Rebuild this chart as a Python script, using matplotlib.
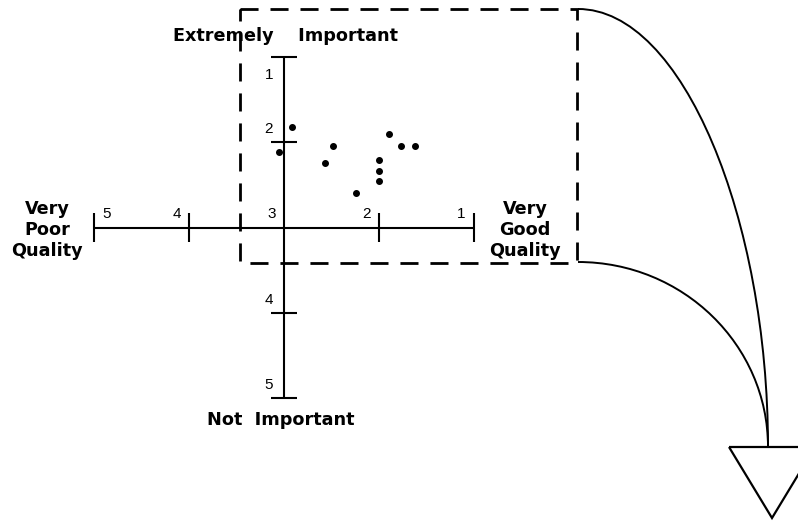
import matplotlib
matplotlib.use('Agg')
import matplotlib.pyplot as plt
from matplotlib.path import Path
from matplotlib.patches import PathPatch, Rectangle, Polygon

plt.rcParams['font.family'] = ['Liberation Sans', 'DejaVu Sans']

# survey results, 1 = best / most important, 5 = worst / not important
quality = [2.92, 3.05, 2.48, 2.57, 1.90, 1.77, 1.62, 2.00, 2.00, 2.00, 2.24]
importance = [1.82, 2.12, 2.04, 2.24, 1.90, 2.04, 2.04, 2.21, 2.34, 2.46, 2.59]

scale = [1, 2, 3, 4, 5]
mid = 3
top_label = 'Extremely    Important'
bottom_label = 'Not  Important'
left_label = 'Very\nPoor\nQuality'
right_label = 'Very\nGood\nQuality'

W, H = 798, 522
fig = plt.figure(figsize=(W / 100, H / 100), dpi=100)

# pixel canvas for the frame, funnel and captions
deco = fig.add_axes([0, 0, 1, 1])
deco.set_xlim(0, W)
deco.set_ylim(H, 0)
deco.axis('off')

# data axes: quality runs right-to-left, importance top-to-bottom
ax = fig.add_axes([0, 0, 1, 1])
ax.set_xlim(5.99, -2.41)
ax.set_ylim(6.455, 0.331)
ax.axis('off')
ax.patch.set_alpha(0)

lw = 1.5
ax.plot([max(scale), min(scale)], [mid, mid], color='k', lw=lw, solid_capstyle='butt')
ax.plot([mid, mid], [min(scale), max(scale)], color='k', lw=lw, solid_capstyle='butt')

for v in scale:
    if v == mid:
        continue
    ax.plot([v, v], [mid - 0.165, mid + 0.165], color='k', lw=lw, solid_capstyle='butt')
    ax.plot([mid - 0.14, mid + 0.14], [v, v], color='k', lw=lw, solid_capstyle='butt')

# tick numbers (offsets in points)
for v in scale:
    dx = 9 if v == max(scale) else -9
    ax.annotate(str(v), (v, mid), xytext=(dx, 10), textcoords='offset points',
                ha='center', va='center', fontsize=11)
    if v != mid:
        dy = -13 if v == min(scale) else 9.5
        ax.annotate(str(v), (mid, v), xytext=(-11, dy), textcoords='offset points',
                    ha='center', va='center', fontsize=11)

ax.plot(quality, importance, 'o', color='k', markersize=4)

# dashed selection box
deco.add_patch(Rectangle((240, 9), 337, 254, fill=False, ec='k', lw=2.0,
                         linestyle=(0, (6.5, 4.3))))

# curves leading to the funnel
outer = Path([(578, 9), (683, 9), (768, 220), (768, 447)],
             [Path.MOVETO, Path.CURVE4, Path.CURVE4, Path.CURVE4])
inner = Path([(578, 262), (683, 262), (768, 345), (768, 447)],
             [Path.MOVETO, Path.CURVE4, Path.CURVE4, Path.CURVE4])
for p in (outer, inner):
    deco.add_patch(PathPatch(p, fill=False, ec='k', lw=1.4))
deco.add_patch(Polygon([(729, 447), (815, 447), (772, 518)], closed=True,
                       fill=False, ec='k', lw=1.6, joinstyle='miter'))

bold = dict(fontsize=12.7, fontweight='bold', ha='center', family='DejaVu Sans')
deco.text(285.5, 41, top_label, va='baseline', **bold)
deco.text(281, 425, bottom_label, va='baseline', **bold)
deco.text(47, 230, left_label, va='center', linespacing=1.2, **bold)
deco.text(525, 230, right_label, va='center', linespacing=1.2, **bold)

fig.savefig('out.png', dpi=100)
